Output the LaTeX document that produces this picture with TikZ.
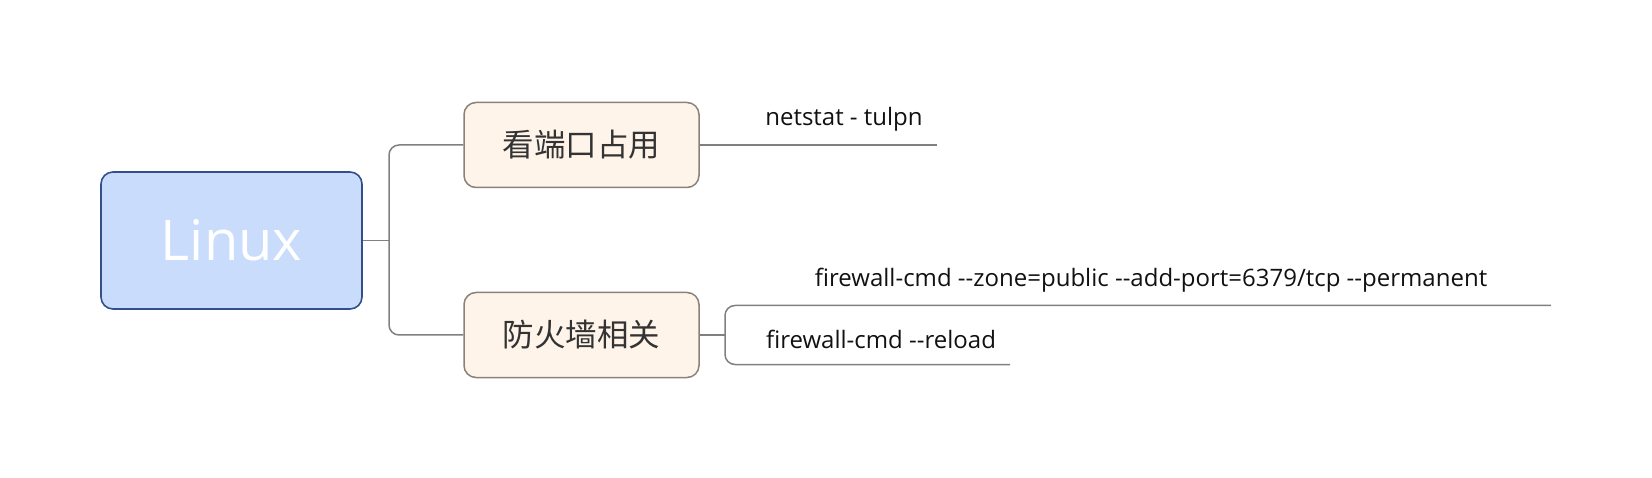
\documentclass[tikz,border=0pt]{standalone}
\usepackage{fontspec}
\setmainfont{Open Sans}
\newfontfamily\cjk{Noto Sans CJK SC}
\newcommand\dd{-\kern0pt-}
\definecolor{rootfill}{HTML}{C9DCFC}
\definecolor{rootdraw}{HTML}{34508A}
\definecolor{subfill}{HTML}{FEF4EA}
\definecolor{subdraw}{HTML}{8C8079}
\definecolor{linecol}{HTML}{808080}
\definecolor{txtcol}{HTML}{111111}
\tikzset{
  rootbox/.style={draw=rootdraw, line width=1.6pt, fill=rootfill, rounded corners=12pt, minimum width=261pt, minimum height=137pt, inner sep=0pt, text=white, font=\fontsize{56}{60}\selectfont},
  subbox/.style={draw=subdraw, line width=1.5pt, fill=subfill, rounded corners=12pt, minimum width=235pt, minimum height=85pt, inner sep=0pt, text=black!80, font=\cjk\fontsize{31.5}{34}\selectfont},
  conn/.style={draw=linecol, line width=1.5pt},
  leaf/.style={inner sep=0pt, text=txtcol, font=\fontsize{24}{27}\selectfont}
}
\begin{document}
\begin{tikzpicture}[x=1pt,y=-1pt]
\useasboundingbox (0,0) rectangle (1652,478);
\node[rootbox] (linux) at (231.5,240.5) {Linux};
\node[subbox] (port) at (581.5,145) {看端口占用};
\node[subbox] (fw) at (581.5,335) {防火墙相关};
\coordinate (j1) at (389,240.5);
\draw[conn] (linux.east) -- (j1);
\draw[conn, rounded corners=10pt] (port.west) -| (j1) |- (fw.west);
\coordinate (n1) at (937,145);
\draw[conn] (port.east) -- (n1);
\node[leaf] (t1) at (844,119) {netstat - tulpn};
\coordinate (j2) at (725,335);
\draw[conn] (fw.east) -- (j2);
\coordinate (c1) at (1551,305.5);
\coordinate (c2) at (1010,364.5);
\draw[conn, rounded corners=10pt] (c1) -| (j2) |- (c2);
\node[leaf] (t2) at (1151,280) {firewall-cmd \dd zone=public \dd add-port=6379/tcp \dd permanent};
\node[leaf] (t3) at (881,339) {firewall-cmd \dd reload};
\end{tikzpicture}
\end{document}
